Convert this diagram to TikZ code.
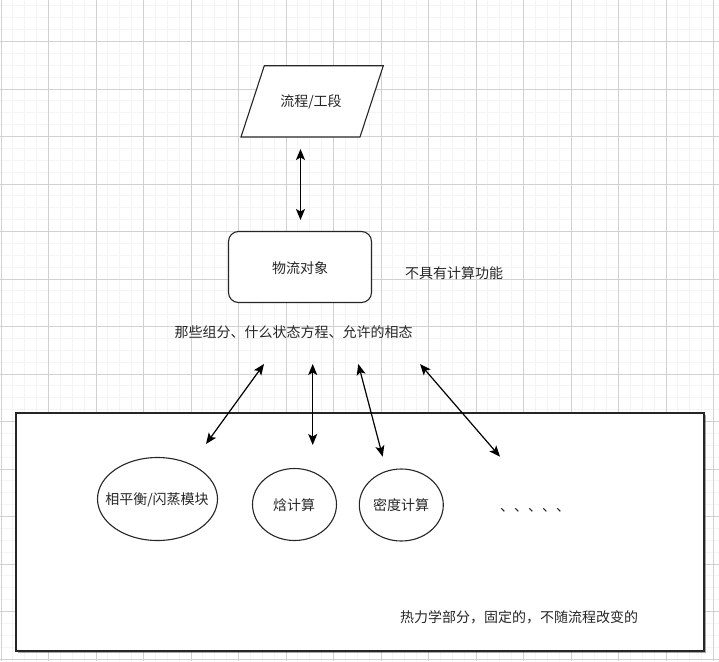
\documentclass[tikz,border=0pt]{standalone}
\usepackage{fontspec}
\newfontfamily\cjk{Noto Sans CJK SC}
\usetikzlibrary{arrows.meta,shapes.geometric,shadows}
\begin{document}
\begin{tikzpicture}[x=1pt,y=-1pt,
  minorline/.style={gray!9,line width=0.8pt},
  majorline/.style={gray!36,line width=0.8pt},
  lbl/.style={font=\cjk\fontsize{14}{17}\selectfont,inner sep=0pt,text=black!85},
  shapebox/.style={draw=black!85,line width=1.1pt,fill=white},
  conn/.style={line width=1.2pt,{Stealth[length=11pt,width=9pt,inset=2.5pt]}-{Stealth[length=11pt,width=9pt,inset=2.5pt]}}]
\useasboundingbox (0,0) rectangle (719,661);
\fill[white] (0,0) rectangle (719,661);
% grid
\foreach \i in {0,...,60} \draw[minorline] ({1+11.875*\i},0) -- ({1+11.875*\i},661);
\foreach \i in {0,...,55} \draw[minorline] (0,{5.875+11.875*\i}) -- (719,{5.875+11.875*\i});
\foreach \i in {0,...,15} \draw[majorline] ({1+47.5*\i},0) -- ({1+47.5*\i},661);
\foreach \i in {0,...,13} \draw[majorline] (0,{41.5+47.5*\i}) -- (719,{41.5+47.5*\i});
% parallelogram
\draw[shapebox] (264.3,65.7) -- (383.3,65.7) -- (360,137) -- (241,137) -- cycle;
\node[lbl] (para) at (311,102) {流程/工段};
% object
\node[shapebox,rounded corners=10pt,minimum width=143pt,minimum height=71pt,inner sep=0pt] (obj) at (300,267) {};
\node[lbl] (objt) at (300,268.5) {物流对象};
\node[lbl] (nocalc) at (454,273.5) {不具有计算功能};
\node[lbl] (which) at (293.5,332.5) {那些组分、什么状态方程、允许的相态};
% big box
\node[shapebox,drop shadow={shadow xshift=1.5pt,shadow yshift=-1.5pt,opacity=0.35,fill=black},minimum width=688pt,minimum height=238pt,inner sep=0pt] (thermo) at (360,532) {};
\node[lbl] (thermot) at (519,617) {热力学部分，固定的，不随流程改变的};
% ellipses
\node[shapebox,ellipse,minimum width=120pt,minimum height=83pt,inner sep=0pt] (flash) at (157.5,499) {};
\node[lbl] (flasht) at (157,500) {相平衡/闪蒸模块};
\node[shapebox,ellipse,minimum width=84pt,minimum height=72pt,inner sep=0pt] (enth) at (294.5,504.5) {};
\node[lbl] (entht) at (294,505) {焓计算};
\node[shapebox,ellipse,minimum width=84pt,minimum height=72pt,inner sep=0pt] (dens) at (401.3,505) {};
\node[lbl] (denst) at (401,505) {密度计算};
\node[lbl,anchor=base west] (dots) at (500,511) {、、、、、};
% arrow end points
\coordinate (t1) at (300.5,149);
\coordinate (t2) at (300.5,220);
\coordinate (a1s) at (264,364);
\coordinate (a1e) at (206,444);
\coordinate (a2s) at (312.7,364);
\coordinate (a2e) at (312.7,445);
\coordinate (a3s) at (358.3,364);
\coordinate (a3e) at (382.7,456.7);
\coordinate (a4s) at (420,364);
\coordinate (a4e) at (500,456.7);
\draw[conn] (t1) -- (t2);
\draw[conn] (a1s) -- (a1e);
\draw[conn] (a2s) -- (a2e);
\draw[conn] (a3s) -- (a3e);
\draw[conn] (a4s) -- (a4e);
\end{tikzpicture}
\end{document}
